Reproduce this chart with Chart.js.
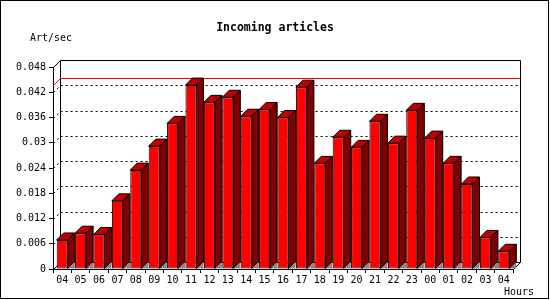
<!DOCTYPE html>
<html><head><meta charset="utf-8">
<script src="https://cdn.jsdelivr.net/npm/chart.js@4/dist/chart.umd.min.js"></script>
<style>html,body{margin:0;padding:0;background:#fff;}canvas{display:block;}</style>
</head><body>
<canvas id="c" width="550" height="300"></canvas>
<script>
// ---- data ----
const hours = ['04','05','06','07','08','09','10','11','12','13','14','15','16','17','18','19','20','21','22','23','00','01','02','03','04'];
const artPerSec = [0.0069,0.0085,0.0082,0.0162,0.0235,0.0292,0.0346,0.0437,0.0396,0.0408,0.0363,0.0379,0.0360,0.0432,0.0251,0.0313,0.0289,0.0351,0.0299,0.0377,0.0311,0.0251,0.0202,0.0075,0.0042];
const yTickValues = [0,0.006,0.012,0.018,0.024,0.030,0.036,0.042,0.048];
const yTickLabels = ['0','0.006','0.012','0.018','0.024','0.03','0.036','0.042','0.048'];
const chartTitle = 'Incoming articles';
const yUnitLabel = 'Art/sec';
const xUnitLabel = 'Hours';
const maxValue = Math.max(...artPerSec);

const D = 7; // 3D depth
const FONT = "'DejaVu Sans Mono', monospace";

const threeD = {
  id: 'threeD',
  beforeDatasetsDraw(chart) {
    const ctx = chart.ctx;
    const {left, right, top, bottom} = chart.chartArea;
    const ys = chart.scales.y;
    ctx.save();
    ctx.lineWidth = 1;
    ctx.strokeStyle = '#000';
    // dotted grid lines on side wall and back plane
    ctx.setLineDash([2, 3]);
    ctx.beginPath();
    yTickValues.forEach((v, i) => {
      if (i === 0 || i === yTickValues.length - 1) return;
      const py = Math.round(ys.getPixelForValue(v)) + 0.5;
      ctx.moveTo(left + 0.5, py);
      ctx.lineTo(left + D + 0.5, py - D);
      ctx.lineTo(right + D + 0.5, py - D);
    });
    ctx.stroke();
    ctx.setLineDash([]);
    // back plane frame
    ctx.beginPath();
    ctx.moveTo(left + 0.5, top + 0.5);
    ctx.lineTo(left + D + 0.5, top - D + 0.5);
    ctx.lineTo(right + D + 0.5, top - D + 0.5);
    ctx.lineTo(right + D + 0.5, bottom - D + 0.5);
    ctx.lineTo(right + 0.5, bottom + 0.5);
    ctx.moveTo(left + D + 0.5, top - D + 0.5);
    ctx.lineTo(left + D + 0.5, bottom - D + 0.5);
    ctx.lineTo(right + D + 0.5, bottom - D + 0.5);
    ctx.moveTo(left + 0.5, bottom + 0.5);
    ctx.lineTo(left + D + 0.5, bottom - D + 0.5);
    ctx.stroke();
    // max line
    const my = Math.round(ys.getPixelForValue(maxValue)) + 0.5;
    ctx.strokeStyle = '#ff0000';
    ctx.beginPath();
    ctx.moveTo(left + 0.5, my);
    ctx.lineTo(left + D + 0.5, my - D);
    ctx.lineTo(right + D + 0.5, my - D);
    ctx.stroke();
    // 3D faces of bars
    ctx.strokeStyle = '#000';
    const meta = chart.getDatasetMeta(0);
    meta.data.forEach(bar => {
      const p = bar.getProps(['x', 'y', 'base', 'width'], true);
      const l = p.x - p.width / 2, r = p.x + p.width / 2, ty = p.y, b = p.base;
      // top face
      ctx.beginPath();
      ctx.moveTo(l, ty); ctx.lineTo(l + D, ty - D); ctx.lineTo(r + D, ty - D); ctx.lineTo(r, ty); ctx.closePath();
      ctx.fillStyle = '#c00000'; ctx.fill(); ctx.stroke();
      // side face
      ctx.beginPath();
      ctx.moveTo(r, ty); ctx.lineTo(r + D, ty - D); ctx.lineTo(r + D, b - D); ctx.lineTo(r, b); ctx.closePath();
      ctx.fillStyle = '#800000'; ctx.fill(); ctx.stroke();
      // floor shadow
      ctx.beginPath();
      ctx.moveTo(r + 0.5, b); ctx.lineTo(r + D, b - D + 0.5); ctx.lineTo(r + D, b); ctx.closePath();
      ctx.fillStyle = '#888888'; ctx.fill();
    });
    ctx.restore();
  },
  afterDraw(chart) {
    const ctx = chart.ctx;
    ctx.save();
    ctx.fillStyle = '#000';
    ctx.font = '10px ' + FONT;
    ctx.textBaseline = 'middle';
    ctx.textAlign = 'left';
    ctx.fillText(yUnitLabel, 30, 38);
    ctx.fillText(xUnitLabel, 504, 292);
    ctx.strokeStyle = '#000';
    ctx.lineWidth = 1;
    ctx.strokeRect(0.5, 0.5, 548, 298);
    ctx.restore();
  }
};

Chart.defaults.color = '#000';
new Chart(document.getElementById('c'), {
  type: 'bar',
  data: {
    labels: hours,
    datasets: [{
      data: artPerSec,
      backgroundColor: '#ff0000',
      borderColor: '#000',
      borderWidth: 1,
      borderSkipped: false,
      barPercentage: 0.6,
      categoryPercentage: 1.0
    }]
  },
  options: {
    responsive: false,
    animation: false,
    devicePixelRatio: 1,
    layout: { padding: 0 },
    plugins: {
      legend: { display: false },
      tooltip: { enabled: false },
      title: {
        display: true,
        text: chartTitle,
        color: '#000',
        font: { family: FONT, size: 11.5, weight: 'bold', lineHeight: '14px' },
        padding: { top: 21, bottom: 32 }
      }
    },
    scales: {
      x: {
        grid: { display: true, drawOnChartArea: false, drawTicks: true, tickLength: 4, color: '#000', offset: true },
        border: { display: true, color: '#000', width: 1 },
        ticks: { font: { family: FONT, size: 10 }, color: '#000', padding: 1, maxRotation: 0, autoSkip: false },
        afterFit(scale) { scale.height = 31; }
      },
      y: {
        min: 0,
        max: 0.048,
        grid: { display: true, drawOnChartArea: false, drawTicks: true, tickLength: 4, color: '#000' },
        border: { display: true, color: '#000', width: 1 },
        ticks: {
          font: { family: FONT, size: 10 }, color: '#000', padding: 3,
          callback: (v, i) => yTickLabels[i]
        },
        afterBuildTicks(scale) { scale.ticks = yTickValues.map(v => ({ value: v })); },
        afterFit(scale) { scale.width = 53; }
      },
      yRight: {
        position: 'right',
        min: 0,
        max: 0.048,
        grid: { display: false, drawTicks: false },
        border: { display: false },
        ticks: { display: false },
        afterFit(scale) { scale.width = 37; }
      }
    }
  },
  plugins: [threeD]
});
</script>
</body></html>
